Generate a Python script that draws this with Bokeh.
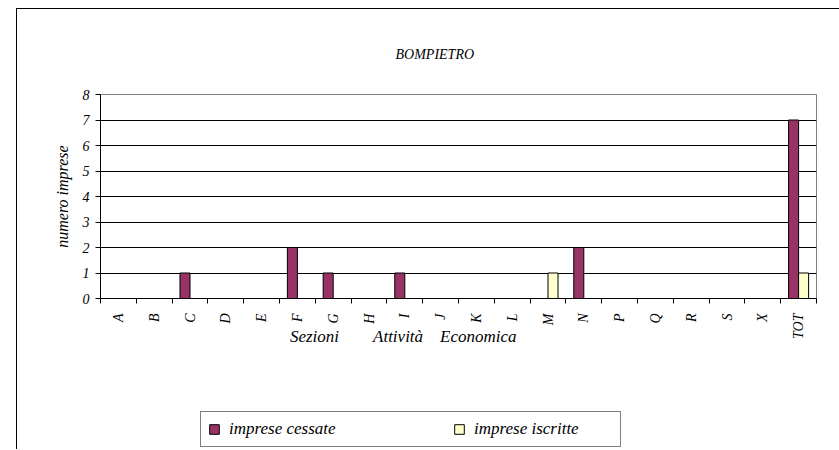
import numpy as np
from bokeh.plotting import figure
from bokeh.layouts import column
from bokeh.models import (Range1d, FixedTicker, LinearAxis, Legend, LegendItem,
                          ColumnDataSource, Grid, Title)
from bokeh.embed import file_html
from bokeh.resources import INLINE

# ---- data ----
categories = ["A", "B", "C", "D", "E", "F", "G", "H", "I", "J", "K", "L",
              "M", "N", "P", "Q", "R", "S", "X", "TOT"]
cessate = [0, 0, 1, 0, 0, 2, 1, 0, 1, 0, 0, 0, 0, 2, 0, 0, 0, 0, 0, 7]
iscritte = [0, 0, 0, 0, 0, 0, 0, 0, 0, 0, 0, 0, 1, 0, 0, 0, 0, 0, 0, 1]
y_ticks = [0, 1, 2, 3, 4, 5, 6, 7, 8]
title_text = "BOMPIETRO"
y_title = "numero imprese"
NB = "\u00a0"
x_title = "Sezioni" + NB * 8 + "Attività" + NB * 4 + "Economica" + NB * 26
series_names = ["imprese cessate", "imprese iscritte"]
colors = ["#993366", "#FFFFCC"]

FONT = "Liberation Serif"

# ---------------- main chart ----------------
p = figure(frame_width=715, frame_height=203, output_backend="svg", toolbar_location=None,
           x_range=Range1d(0, len(categories)), y_range=Range1d(0, 8),
           x_axis_type=None, y_axis_type=None,
           min_border_left=83, min_border_right=24, min_border_top=85, min_border_bottom=62)
p.styles = {"margin-left": "16px", "margin-top": "8px",
            "border-left": "1px solid black", "border-top": "1px solid black"}
p.background_fill_color = "white"
p.border_fill_color = "white"
p.outline_line_color = "#808080"
p.outline_line_width = 1

idx = np.arange(len(categories))
centers = idx + 0.5
bw = 0.28
src = ColumnDataSource(dict(xc=centers - bw / 2, xi=centers + bw / 2,
                            ces=cessate, isc=iscritte))

# y axis
yax = LinearAxis(ticker=FixedTicker(ticks=y_ticks))
yax.axis_label = y_title
yax.axis_label_text_font = FONT
yax.axis_label_text_font_style = "italic"
yax.axis_label_text_font_size = "16px"
yax.axis_label_text_color = "black"
yax.axis_label_standoff = 9
yax.major_label_text_font = FONT
yax.major_label_text_font_style = "italic"
yax.major_label_text_font_size = "14px"
yax.major_label_text_color = "black"
yax.major_label_standoff = 6
yax.major_tick_in = 0
yax.major_tick_out = 5
yax.minor_tick_line_color = None
yax.axis_line_color = "black"
yax.major_tick_line_color = "black"
p.add_layout(yax, "left")

# x axis: labels at centres, ticks at boundaries
xax = LinearAxis(ticker=FixedTicker(ticks=list(centers), minor_ticks=list(range(len(categories) + 1))))
xax.major_label_overrides = {float(c): n for c, n in zip(centers, categories)}
xax.major_label_orientation = np.pi / 2
xax.major_label_text_font = FONT
xax.major_label_text_font_style = "italic"
xax.major_label_text_font_size = "14px"
xax.major_label_text_color = "black"
xax.major_label_standoff = 10
xax.major_tick_in = 0
xax.major_tick_out = 0
xax.minor_tick_in = 0
xax.minor_tick_out = 5
xax.minor_tick_line_color = "black"
xax.axis_line_color = "black"
xax.axis_label = x_title
xax.axis_label_text_font = FONT
xax.axis_label_text_font_style = "italic"
xax.axis_label_text_font_size = "17px"
xax.axis_label_text_color = "black"
xax.axis_label_standoff = -15
p.add_layout(xax, "below")

grid = Grid(dimension=1, ticker=FixedTicker(ticks=y_ticks[1:-1]),
            grid_line_color="black", grid_line_width=1)
p.add_layout(grid)

p.vbar(x="xc", top="ces", bottom=0, width=bw, source=src,
       fill_color=colors[0], line_color="black", line_width=1)
p.vbar(x="xi", top="isc", bottom=0, width=bw, source=src,
       fill_color=colors[1], line_color="black", line_width=1)

p.add_layout(Title(text=title_text, align="left", offset=295, standoff=66,
                   text_font=FONT, text_font_style="italic", text_font_size="14px",
                   text_color="black"), "above")

# ---------------- legend strip ----------------
p2 = figure(frame_width=822, frame_height=90, output_backend="svg", toolbar_location=None,
            x_range=Range1d(0, 1), y_range=Range1d(0, 1),
            x_axis_type=None, y_axis_type=None,
            min_border_left=0, min_border_right=0, min_border_top=0, min_border_bottom=0)
p2.styles = {"margin-left": "16px", "border-left": "1px solid black"}
p2.background_fill_color = "white"
p2.border_fill_color = "white"
p2.outline_line_color = None

l1 = p2.vbar(x="xc", top="ces", bottom=0, width=bw, source=src,
             fill_color=colors[0], line_color="black", line_width=1, visible=False)
l2 = p2.vbar(x="xi", top="isc", bottom=0, width=bw, source=src,
             fill_color=colors[1], line_color="black", line_width=1, visible=False)

legend = Legend(items=[LegendItem(label=series_names[0], renderers=[l1]),
                       LegendItem(label=series_names[1], renderers=[l2])],
                orientation="horizontal", location=(183, 2), click_policy="none",
                border_line_color="black", border_line_width=1,
                background_fill_color="white", background_fill_alpha=1,
                label_text_font=FONT, label_text_font_style="italic",
                label_text_font_size="17px", label_text_color="black",
                glyph_width=12, glyph_height=12, label_height=12, label_width=139,
                label_standoff=9, spacing=85, padding=7, margin=0)
p2.add_layout(legend, "center")

layout = column(p, p2, spacing=0)

open("out.html", "w").write(file_html(layout, INLINE))
